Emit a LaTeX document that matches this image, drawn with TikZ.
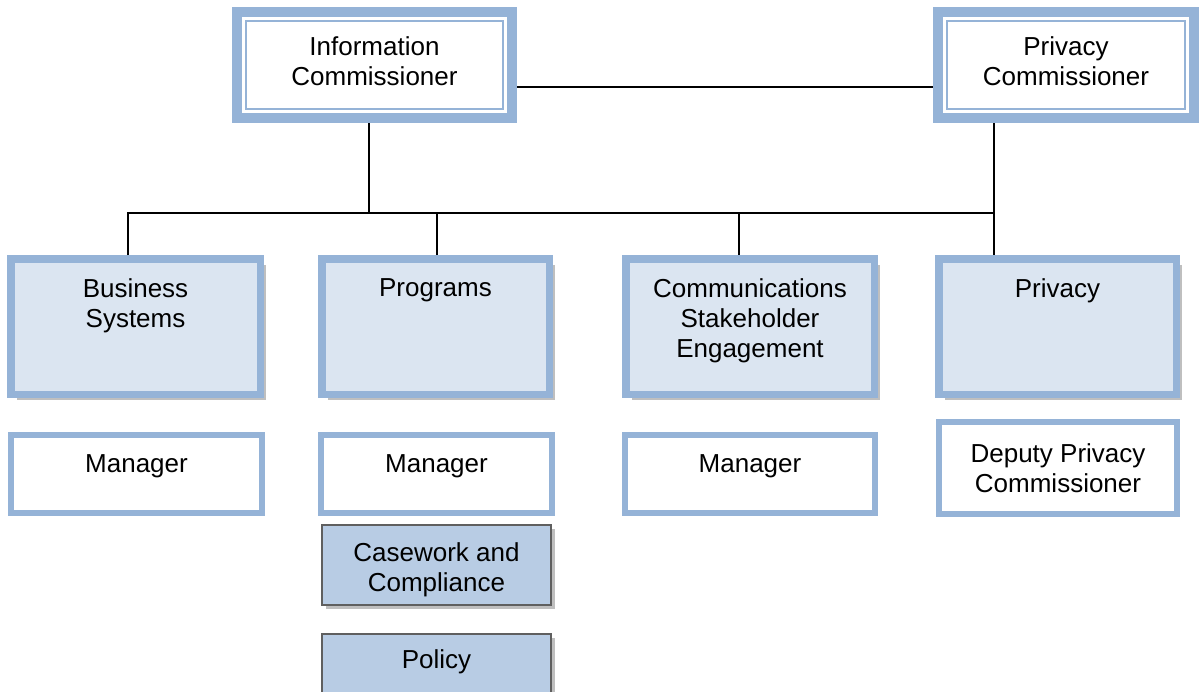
\documentclass[tikz,border=0pt]{standalone}
\usepackage{fontspec}
\setmainfont{Liberation Sans}
\usetikzlibrary{positioning,shadows}

\definecolor{boxblue}{HTML}{95B3D7}
\definecolor{divfill}{HTML}{DBE5F1}
\definecolor{unitfill}{HTML}{B8CCE4}
\definecolor{unitline}{HTML}{5F5F5F}
\definecolor{shade}{HTML}{BFBFBF}

\tikzset{
  chart/.style={x=1pt, y=-1pt, font=\fontsize{26}{30}\selectfont},
  topbox/.style={draw=boxblue, line width=10pt, fill=white, minimum height=106pt,
    path picture={\draw[boxblue, line width=2.5pt]
      ([shift={(9pt,-9pt)}]path picture bounding box.north west) rectangle
      ([shift={(-9pt,9pt)}]path picture bounding box.south east);}},
  divbox/.style={draw=boxblue, line width=7.5pt, fill=divfill, minimum height=135.5pt,
    drop shadow={shadow xshift=6pt, shadow yshift=-6pt, fill=shade, opacity=1}},
  mgrbox/.style={draw=boxblue, line width=6pt, fill=white, minimum height=78pt},
  unitbox/.style={draw=unitline, line width=2pt, fill=unitfill,
    drop shadow={shadow xshift=4pt, shadow yshift=-4pt, fill=shade, opacity=1}},
  boxtext/.style={inner sep=0pt, align=center},
  link/.style={line width=1.5pt}
}

\begin{document}
\begin{tikzpicture}[chart]
\useasboundingbox (0,0) rectangle (1204,691);
\clip (0,0) rectangle (1204,691);

\node[topbox, minimum width=275pt] (ic) at (374.5,65) {};
\node[topbox, minimum width=256pt] (pc) at (1066,65) {};

\node[divbox, minimum width=249.5pt] (bs) at (135.5,326.5) {};
\node[divbox, minimum width=227.5pt] (prog) at (435.5,326.5) {};
\node[divbox, minimum width=248.5pt] (comm) at (750,326.5) {};
\node[divbox, minimum width=237.5pt] (priv) at (1057.5,326.5) {};

\node[mgrbox, minimum width=251pt] (bsmgr) at (136.5,474) {};
\node[mgrbox, minimum width=231pt] (progmgr) at (436.5,474) {};
\node[mgrbox, minimum width=250pt] (commmgr) at (750,474) {};
\node[mgrbox, minimum width=238pt, minimum height=92pt] (dpc) at (1058,468) {};

\node[unitbox, minimum width=229pt, minimum height=80pt] (case) at (436.5,565) {};
% runs off the bottom edge
\node[unitbox, minimum width=229pt, minimum height=80pt] (policy) at (436.5,674) {};

% labels, hung from the top edge of each box
\node[boxtext, below=29pt of ic.north] (ictext) {Information\\Commissioner};
\node[boxtext, below=29pt of pc.north] (pctext) {Privacy\\Commissioner};
\node[boxtext, below=23pt of bs.north] (bstext) {Business\\Systems};
\node[boxtext, below=23pt of prog.north] (progtext) {Programs};
\node[boxtext, below=23pt of comm.north] (commtext) {Communications\\Stakeholder\\Engagement};
\node[boxtext, below=23pt of priv.north] (privtext) {Privacy};
\node[boxtext, below=22pt of bsmgr.north] (bsmgrtext) {Manager};
\node[boxtext, below=22pt of progmgr.north] (progmgrtext) {Manager};
\node[boxtext, below=22pt of commmgr.north] (commmgrtext) {Manager};
\node[boxtext, below=24pt of dpc.north] (dpctext) {Deputy Privacy\\Commissioner};
\node[boxtext, below=18pt of case.north] (casetext) {Casework and\\Compliance};
\node[boxtext, below=16.5pt of policy.north] (policytext) {Policy};

\coordinate (busl) at (128,213);
\coordinate (busr) at (994,213);
\coordinate (icdrop) at (369,213);
\coordinate (progdrop) at (437,213);
\coordinate (commdrop) at (739,213);

\draw[link] ([yshift=-22pt]ic.east) -- ([yshift=-22pt]pc.west);
\draw[link] (icdrop |- ic.south) -- (icdrop);
\draw[link] (busl |- bs.north) -- (busl) -- (busr);
\draw[link] (busr |- pc.south) -- (busr |- priv.north);
\foreach \d/\b in {progdrop/prog, commdrop/comm}
  \draw[link] (\d) -- (\d |- \b.north);
\end{tikzpicture}
\end{document}
